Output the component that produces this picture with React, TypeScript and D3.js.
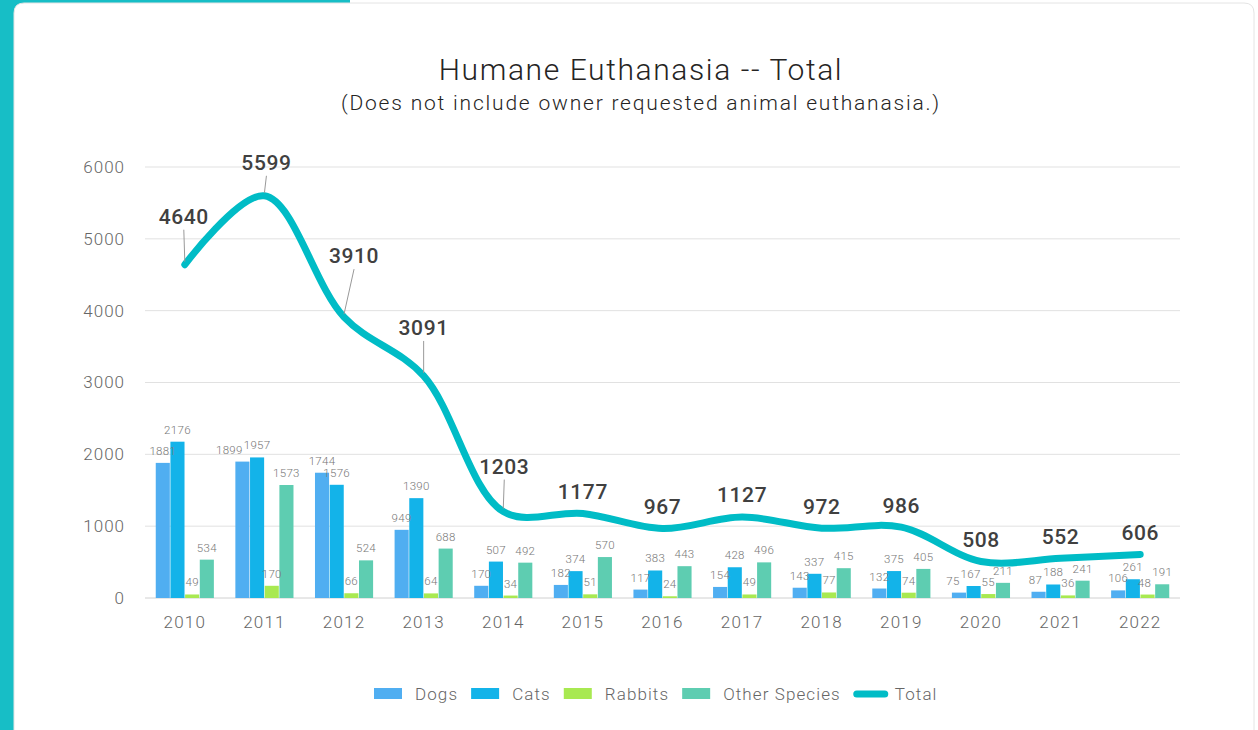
import * as d3 from "d3";
import { useEffect, useRef } from "react";

const years = ["2010", "2011", "2012", "2013", "2014", "2015", "2016", "2017", "2018", "2019", "2020", "2021", "2022"];
const dogs = [1881, 1899, 1744, 949, 170, 182, 117, 154, 143, 132, 75, 87, 106];
const cats = [2176, 1957, 1576, 1390, 507, 374, 383, 428, 337, 375, 167, 188, 261];
const rabbits = [49, 170, 66, 64, 34, 51, 24, 49, 77, 74, 55, 36, 48];
const otherSpecies = [534, 1573, 524, 688, 492, 570, 443, 496, 415, 405, 211, 241, 191];
const total = [4640, 5599, 3910, 3091, 1203, 1177, 967, 1127, 972, 986, 508, 552, 606];
const yTicks = [0, 1000, 2000, 3000, 4000, 5000, 6000];

const seriesNames = ["Dogs", "Cats", "Rabbits", "Other Species"];
const seriesColors = ["#50AEF1", "#13B3E9", "#A8E951", "#5ECDB1"];
const totalColor = "#00BCC6";

// label placement for the total line (dx, dy from point; leader line when far)
const totalLabelOffsets: [number, number, boolean][] = [
  [-1, -48, true], [2, -33, true], [10, -61, true], [0, -48, true], [1, -45, true],
  [0, -22, false], [0, -22, false], [0, -22, false], [0, -22, false], [0, -22, false],
  [0, -22, false], [0, -22, false], [0, -22, false],
];

const W = 1258;
const H = 730;
const FONT = "Roboto, 'DejaVu Sans', sans-serif";

export default function App() {
  const svgRef = useRef<SVGSVGElement>(null);

  useEffect(() => {
    const svg = d3.select(svgRef.current);
    svg.selectAll("*").remove();

    // frame
    svg.append("rect").attr("x", 0).attr("y", 0).attr("width", W).attr("height", H).attr("fill", "#fff");
    svg.append("rect").attr("x", 0).attr("y", 0).attr("width", 350).attr("height", 20).attr("fill", "#17BEC6");
    svg.append("rect").attr("x", 0).attr("y", 0).attr("width", 14).attr("height", H).attr("fill", "#17BEC6");
    const r = 10, cx0 = 14, cy0 = 3, cx1 = 1254;
    svg.append("path")
      .attr("d", `M${cx0},${H + 5} L${cx0},${cy0 + r} Q${cx0},${cy0} ${cx0 + r},${cy0} L${cx1 - r},${cy0} Q${cx1},${cy0} ${cx1},${cy0 + r} L${cx1},${H + 5}`)
      .attr("fill", "#fff")
      .attr("stroke", "#e4e4e4")
      .attr("stroke-width", 1);

    const left = 145, right = 1180, top = 167, bottom = 598;

    const x0 = d3.scaleBand<string>().domain(years).range([left, right]).paddingInner(0.27).paddingOuter(0.135);
    const x1 = d3.scaleBand<string>().domain(seriesNames).range([0, x0.bandwidth()]).paddingInner(0.04);
    const y = d3.scaleLinear().domain([0, 6000]).range([bottom, top]);

    // title
    svg.append("text").attr("x", 641).attr("y", 80).attr("text-anchor", "middle")
      .attr("font-family", FONT).attr("font-size", 30).attr("font-weight", 300).attr("fill", "#252423")
      .attr("letter-spacing", 1.6)
      .text("Humane Euthanasia -- Total");
    svg.append("text").attr("x", 641).attr("y", 110).attr("text-anchor", "middle")
      .attr("font-family", FONT).attr("font-size", 21).attr("font-weight", 300).attr("fill", "#252423")
      .attr("letter-spacing", 1.8)
      .text("(Does not include owner requested animal euthanasia.)");

    // grid + y axis
    const grid = svg.append("g");
    yTicks.forEach((t) => {
      grid.append("line").attr("x1", left).attr("x2", right).attr("y1", y(t)).attr("y2", y(t))
        .attr("stroke", t === 0 ? "#d0d0d0" : "#e1e1e1").attr("stroke-width", 1);
      grid.append("text").attr("x", 125).attr("y", y(t)).attr("dy", "0.35em").attr("text-anchor", "end")
        .attr("font-family", FONT).attr("font-size", 17).attr("font-weight", 300).attr("fill", "#666")
        .attr("letter-spacing", 1)
        .text(t);
    });

    // x axis labels
    years.forEach((yr) => {
      svg.append("text").attr("x", x0(yr)! + x0.bandwidth() / 2).attr("y", 628).attr("text-anchor", "middle")
        .attr("font-family", FONT).attr("font-size", 17).attr("font-weight", 300).attr("fill", "#666")
        .attr("letter-spacing", 1.2)
        .text(yr);
    });

    // bars
    const series = [dogs, cats, rabbits, otherSpecies];
    const bars = svg.append("g");
    const barLabels = svg.append("g");
    const labelSize = 11.5;
    years.forEach((yr, i) => {
      const labels: { node: SVGTextElement; cx: number; y: number; w: number }[] = [];
      series.forEach((vals, s) => {
        const bx = x0(yr)! + x1(seriesNames[s])!;
        bars.append("rect").attr("x", bx).attr("y", y(vals[i])).attr("width", x1.bandwidth())
          .attr("height", bottom - y(vals[i])).attr("fill", seriesColors[s]);
        const cx = bx + x1.bandwidth() / 2;
        const ly = y(vals[i]) - 8;
        const t = barLabels.append("text").attr("x", cx).attr("y", ly)
          .attr("text-anchor", "middle").attr("font-family", FONT).attr("font-size", labelSize)
          .attr("font-weight", 300).attr("fill", "#777").attr("letter-spacing", 0.3)
          .text(vals[i]);
        const node = t.node() as SVGTextElement;
        labels.push({ node, cx, y: ly, w: node.getComputedTextLength() });
      });
      // push a label left when it collides with its right neighbour
      for (let s = labels.length - 2; s >= 0; s--) {
        const a = labels[s], b = labels[s + 1];
        const aRight = a.cx + a.w / 2, bLeft = b.cx - b.w / 2;
        if (Math.abs(a.y - b.y) < labelSize - 1 && aRight > bLeft) {
          a.cx = bLeft - a.w / 2 - 1;
          d3.select(a.node).attr("x", a.cx);
        }
      }
    });

    // total line
    const pts: [number, number][] = total.map((v, i) => [x0(years[i])! + x0.bandwidth() / 2, y(v)]);
    const line = d3.line().curve(d3.curveCatmullRom.alpha(0.5));
    svg.append("path").attr("d", line(pts)).attr("fill", "none").attr("stroke", totalColor)
      .attr("stroke-width", 7).attr("stroke-linecap", "round").attr("stroke-linejoin", "round");

    // total labels
    pts.forEach(([px, py], i) => {
      const [dx, dy, leader] = totalLabelOffsets[i];
      const lx = px + dx, ly = py + dy;
      if (leader) {
        svg.append("line").attr("x1", lx).attr("y1", ly + 13).attr("x2", px).attr("y2", py - 3)
          .attr("stroke", "#999").attr("stroke-width", 1);
      }
      svg.append("text").attr("x", lx).attr("y", ly).attr("dy", "0.35em").attr("text-anchor", "middle")
        .attr("font-family", FONT).attr("font-size", 21).attr("font-weight", 500).attr("fill", "#404040")
        .attr("letter-spacing", 0.6)
        .text(total[i]);
    });

    // legend
    const legend = svg.append("g").attr("transform", "translate(0,694)");
    const legendItems = [...seriesNames, "Total"];
    let lxPos = 374;
    legendItems.forEach((name, i) => {
      if (i < 4) {
        legend.append("rect").attr("x", lxPos).attr("y", -6).attr("width", 28).attr("height", 11).attr("fill", seriesColors[i]);
      } else {
        legend.append("line").attr("x1", lxPos + 3).attr("x2", lxPos + 31).attr("y1", 0).attr("y2", 0)
          .attr("stroke", totalColor).attr("stroke-width", 7).attr("stroke-linecap", "round");
      }
      const t = legend.append("text").attr("x", lxPos + 41).attr("y", 0).attr("dy", "0.35em")
        .attr("font-family", FONT).attr("font-size", 17).attr("font-weight", 300).attr("fill", "#666")
        .attr("letter-spacing", 1.1)
        .text(name);
      const tw = (t.node() as SVGTextElement).getComputedTextLength();
      lxPos += 41 + tw + 13;
    });
  }, []);

  return (
    <div style={{ position: "absolute", left: 0, top: 0 }}>
      <svg ref={svgRef} width={W} height={H} style={{ display: "block" }} />
    </div>
  );
}
